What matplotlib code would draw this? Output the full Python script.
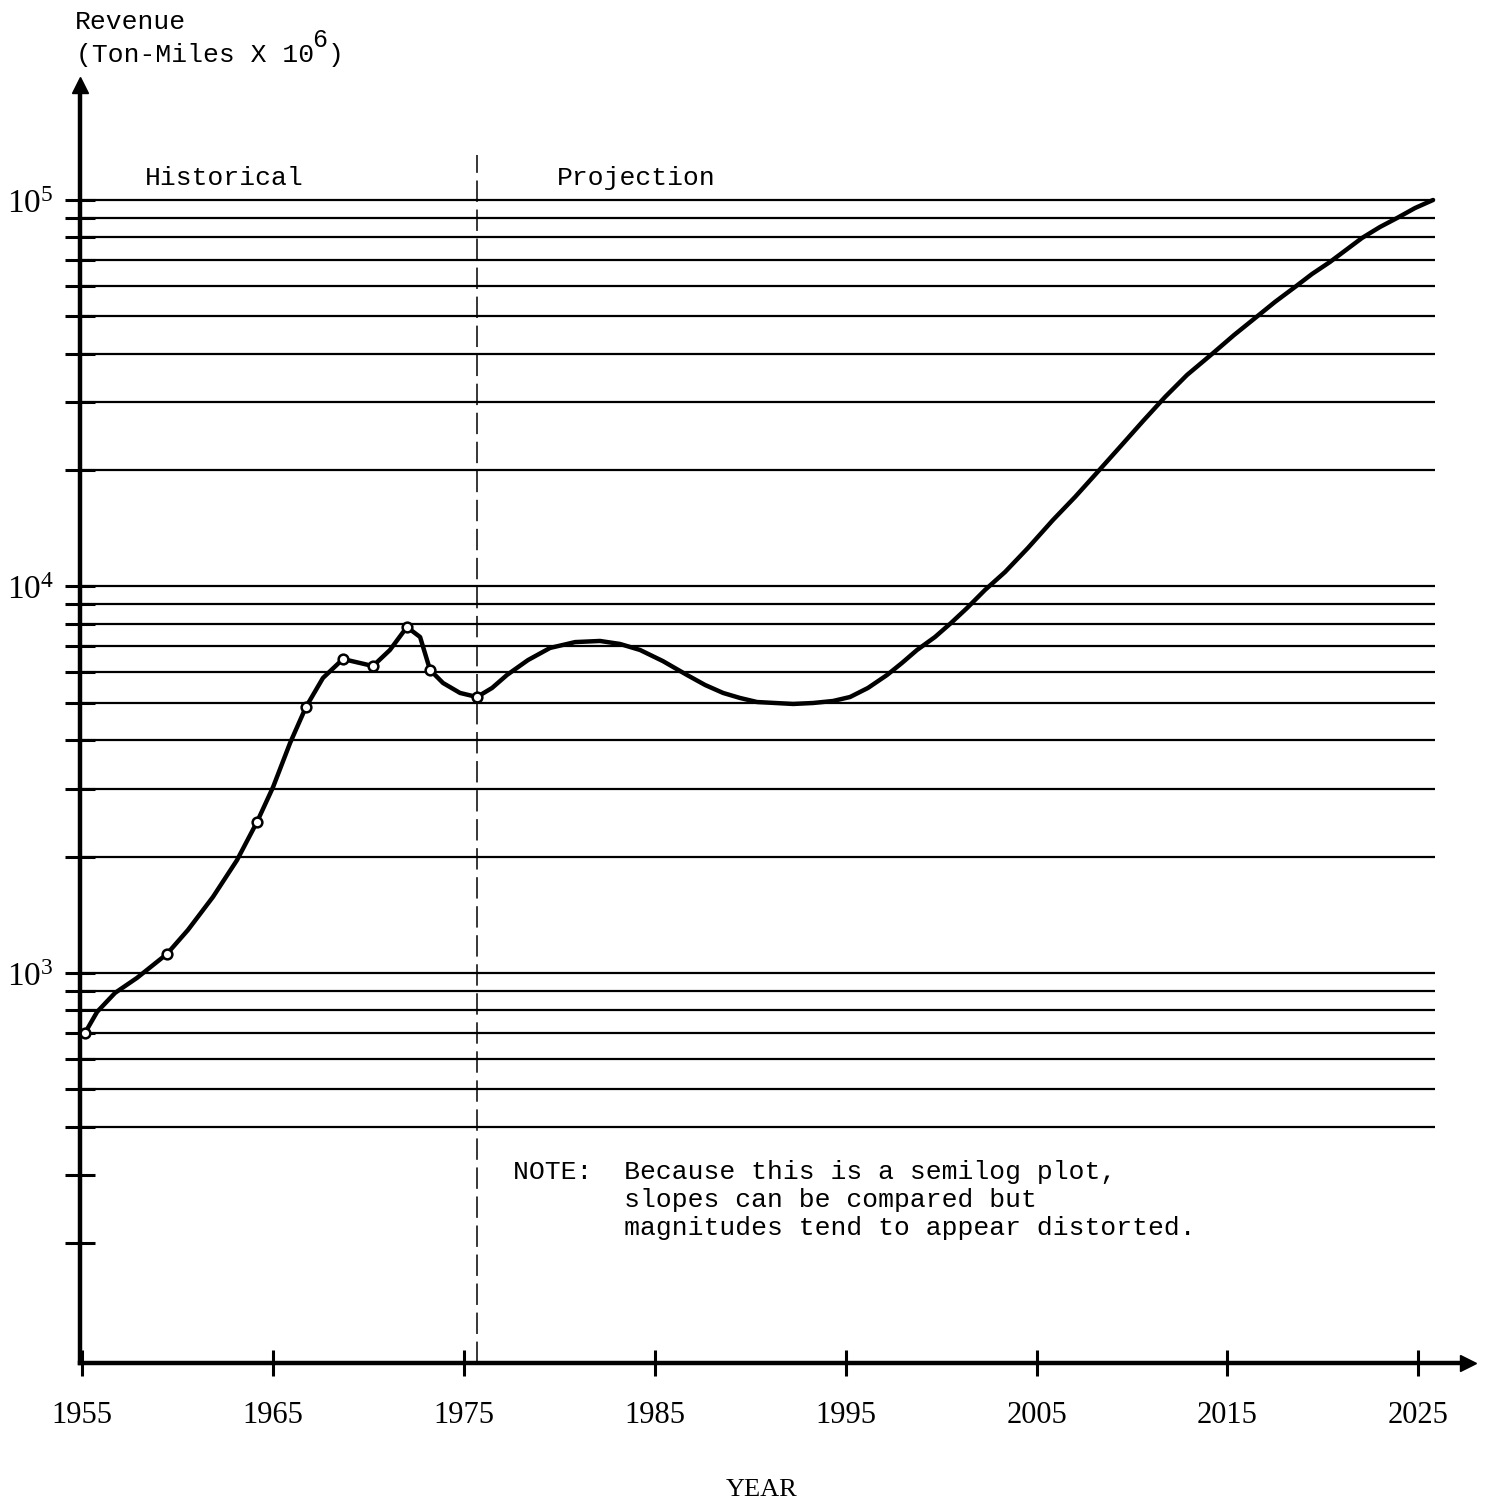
import matplotlib
matplotlib.use('Agg')
import matplotlib.pyplot as plt
from matplotlib.ticker import FixedLocator, FixedFormatter, NullFormatter

# --- data ---
# historical observations (open circles)
hist_years = [1955.16, 1959.45, 1964.17, 1966.73, 1968.67, 1970.24, 1972.02, 1973.23, 1975.69]
hist_values = [700, 1120, 2460, 4875, 6490, 6225, 7854, 6083, 5176]

# hand drawn curve through the historical points
hist_curve_years = [1955.16, 1955.79, 1956.73, 1957.88, 1959.45, 1960.55, 1961.86, 1963.12,
                    1964.17, 1965.01, 1965.90, 1966.73, 1967.62, 1968.67, 1970.24, 1971.13,
                    1972.02, 1972.71, 1973.23, 1973.91, 1974.80, 1975.69]
hist_curve_values = [700, 793, 888, 971, 1120, 1292, 1573, 1959,
                     2460, 3028, 3937, 4875, 5797, 6490, 6225, 6850,
                     7854, 7400, 6083, 5627, 5303, 5176]

# projection curve
proj_years = [1975.69, 1976.48, 1977.26, 1978.36, 1979.52, 1980.83, 1982.13, 1983.18,
              1984.23, 1985.43, 1986.69, 1987.64, 1988.58, 1989.47, 1990.36, 1991.30,
              1992.25, 1993.30, 1994.34, 1995.23, 1996.17, 1997.17, 1997.95, 1998.74,
              1999.68, 2000.52, 2001.36, 2002.30, 2003.35, 2004.55, 2005.86, 2007.02,
              2008.06, 2009.37, 2010.58, 2011.73, 2012.88, 2014.25, 2015.35, 2016.45,
              2017.49, 2018.54, 2019.43, 2020.37, 2021.21, 2022.05, 2022.99, 2023.88,
              2024.83, 2025.77]
proj_values = [5176, 5463, 5902, 6450, 6934, 7180, 7228, 7100,
               6850, 6410, 5902, 5560, 5303, 5146, 5024, 4995,
               4966, 4995, 5055, 5176, 5463, 5902, 6340, 6850,
               7400, 8045, 8795, 9795, 10900, 12580, 14860, 17050,
               19440, 22960, 26800, 30920, 35250, 40180, 44750, 49500,
               54480, 59560, 64350, 69130, 74250, 79760, 85150, 89800,
               95350, 100000]

grid_values = [400, 500, 600, 700, 800, 900,
               1000, 2000, 3000, 4000, 5000, 6000, 7000, 8000, 9000,
               10000, 20000, 30000, 40000, 50000, 60000, 70000, 80000, 90000, 100000]
extra_ticks = [200, 300]
major_ticks = [1000, 10000, 100000]
major_labels = ['$10^3$', '$10^4$', '$10^5$']
year_ticks = [1955, 1965, 1975, 1985, 1995, 2005, 2015, 2025]

W, H = 1487, 1501


def px(x, y):
    return x / W, 1 - y / H


plt.rcParams['mathtext.fontset'] = 'custom'
plt.rcParams['mathtext.rm'] = 'Liberation Serif'
plt.rcParams['mathtext.it'] = 'Liberation Serif:italic'
plt.rcParams['mathtext.bf'] = 'Liberation Serif:bold'

fig = plt.figure(figsize=(W / 100, H / 100), dpi=100)
ax = fig.add_axes([80 / W, (H - 1363) / H, (1468 - 80) / W, (1363 - 85) / H])

ax.set_yscale('log')
x_left, x_right = 1954.895, 2027.6
ax.set_xlim(x_left, x_right)
ax.set_ylim(97.9, 198400)

# horizontal rulings
ax.hlines(grid_values, x_left, 2025.88, color='black', lw=1.6, zorder=1)

# boundary between history and projection
ax.vlines(hist_years[-1], 97.9, 130700, color='black', lw=1.1,
          linestyles=(0, (14, 5)), zorder=2)

ax.plot(hist_curve_years, hist_curve_values, color='black', lw=3.2, zorder=3,
        solid_capstyle='round', solid_joinstyle='round')
ax.plot(proj_years, proj_values, color='black', lw=3.2, zorder=3,
        solid_capstyle='round', solid_joinstyle='round')
ax.plot(hist_years, hist_values, 'o', ms=7, mfc='white', mec='black', mew=1.8, zorder=4)

# axes look
for s in ['top', 'right']:
    ax.spines[s].set_visible(False)
for s in ['left', 'bottom']:
    ax.spines[s].set_linewidth(3.2)
ax.plot(0, 1, '^k', ms=11, transform=ax.transAxes, clip_on=False)
ax.plot(1, 0, '>k', ms=11, transform=ax.transAxes, clip_on=False)

ax.yaxis.set_major_locator(FixedLocator(major_ticks))
ax.yaxis.set_major_formatter(FixedFormatter(major_labels))
ax.yaxis.set_minor_locator(FixedLocator(extra_ticks + [v for v in grid_values if v not in major_ticks]))
ax.yaxis.set_minor_formatter(NullFormatter())
ax.tick_params(axis='y', which='both', direction='inout', length=22, width=2.2,
               labelsize=24, pad=8)

ax.set_xticks(year_ticks)
ax.set_xticklabels([str(y) for y in year_ticks], family='Liberation Serif')
ax.tick_params(axis='x', which='both', direction='inout', length=19, width=2.2,
               labelsize=22, pad=18)

mono = 'Liberation Mono'
fig.text(*px(75, 29), 'Revenue', family=mono, fontsize=19, va='baseline', ha='left')
fig.text(*px(76, 62), '(Ton-Miles X 10', family=mono, fontsize=19, va='baseline', ha='left')
fig.text(*px(312, 47), '6', family=mono, fontsize=18, va='baseline', ha='left')
fig.text(*px(328, 62), ')', family=mono, fontsize=19, va='baseline', ha='left')
fig.text(*px(145, 185), 'Historical', family=mono, fontsize=19, va='baseline', ha='left')
fig.text(*px(557, 185), 'Projection', family=mono, fontsize=19, va='baseline', ha='left')
note = ('NOTE:  Because this is a semilog plot,\n'
        '       slopes can be compared but\n'
        '       magnitudes tend to appear distorted.')
fig.text(*px(513, 1160), note, family=mono, fontsize=19, va='top', ha='left',
         linespacing=1.2)
fig.text(*px(762, 1496), 'YEAR', family='Liberation Serif', fontsize=19,
         va='baseline', ha='center')

fig.savefig('out.png', dpi=100)
